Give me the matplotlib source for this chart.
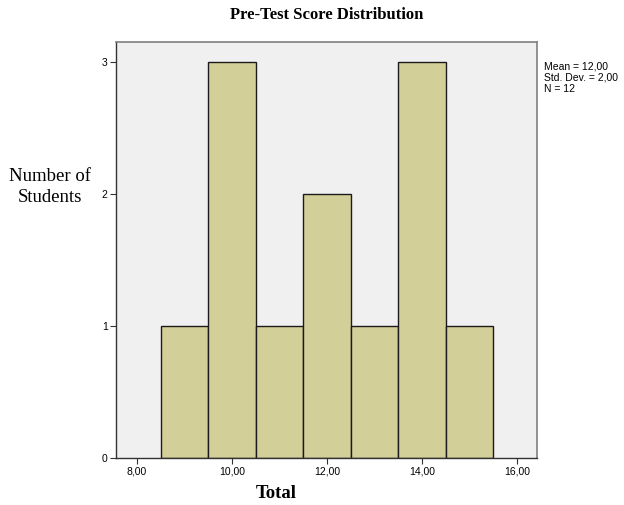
import matplotlib
matplotlib.use('Agg')
import matplotlib.pyplot as plt

# Histogram bins (centers) and counts
bin_centers = [9, 10, 11, 12, 13, 14, 15]
counts = [1, 3, 1, 2, 1, 3, 1]
x_ticks = [8, 10, 12, 14, 16]
x_tick_labels = ['8,00', '10,00', '12,00', '14,00', '16,00']
y_ticks = [0, 1, 2, 3]
stats_text = 'Mean = 12,00\nStd. Dev. = 2,00\nN = 12'

fig = plt.figure(figsize=(6.24, 5.05), dpi=100)
ax = fig.add_axes([116 / 624, 1 - 458 / 505, 421 / 624, 416 / 505])
ax.set_facecolor('#f0f0f0')

ax.bar(bin_centers, counts, width=1.0, color='#d3cf98', edgecolor='#1a1a1a', linewidth=1.0)

ax.set_xlim(7.56, 16.42)
ax.set_ylim(0, 3.15)
ax.set_xticks(x_ticks)
ax.set_xticklabels(x_tick_labels, fontsize=7.5, family='Liberation Sans')
ax.set_yticks(y_ticks)
ax.set_yticklabels([str(v) for v in y_ticks], fontsize=7.5, family='Liberation Sans')
ax.tick_params(length=4, width=0.8, color='#333333', pad=2)

for side in ['top', 'right']:
    ax.spines[side].set_color('#808080')
    ax.spines[side].set_linewidth(1.2)
for side in ['left', 'bottom']:
    ax.spines[side].set_color('#333333')
    ax.spines[side].set_linewidth(1.0)

fig.text(0.5 + 0.5 * (116 + 537 - 624) / 624, 1 - 15 / 505, 'Pre-Test Score Distribution',
         ha='center', va='center', fontsize=12, fontweight='bold', family='Liberation Serif')
fig.text(50 / 624, 1 - 187 / 505, 'Number of\nStudents', ha='center', va='center',
         fontsize=13.5, family='Liberation Serif', linespacing=1.3)
fig.text(276 / 624, 1 - 494 / 505, 'Total', ha='center', va='center',
         fontsize=13.5, fontweight='bold', family='Liberation Serif')
fig.text(544 / 624, 1 - 78 / 505, stats_text, ha='left', va='center',
         fontsize=7.5, family='Liberation Sans', linespacing=1.15)

fig.savefig('out.png', dpi=100)
